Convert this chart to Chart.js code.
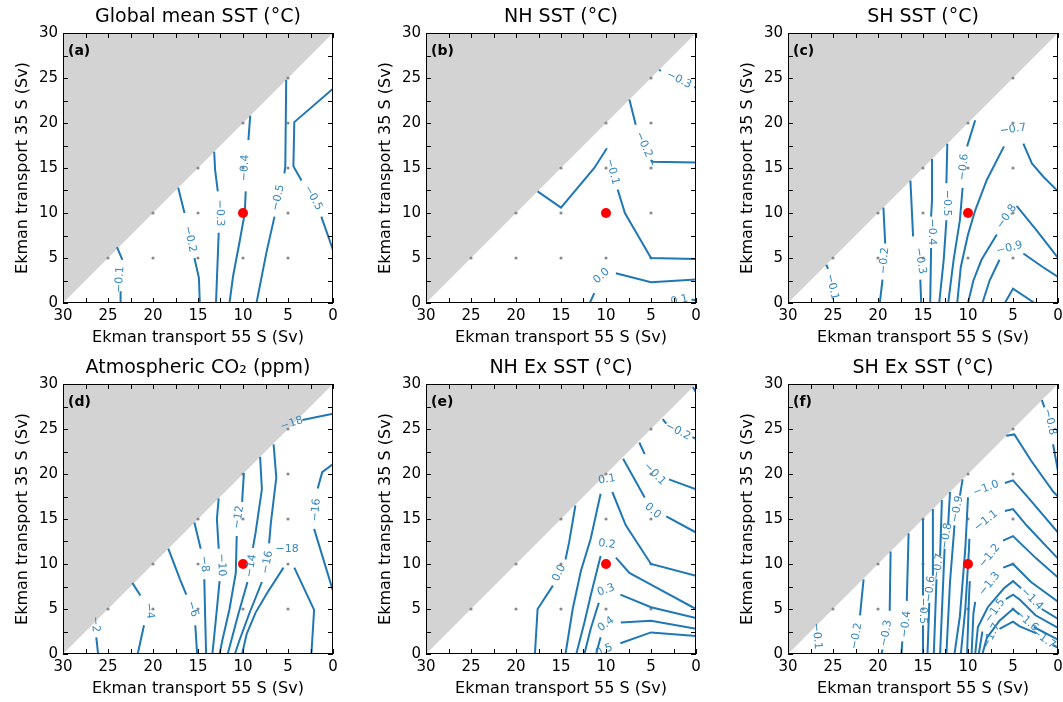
<!DOCTYPE html>
<html>
<head>
<meta charset="utf-8">
<script src="https://cdn.jsdelivr.net/npm/chart.js@4.4.0/dist/chart.umd.min.js"></script>
<style>
  body { margin: 0; background: #fff; width: 1063px; height: 702px; overflow: hidden; position: relative; }
  canvas { position: absolute; }
</style>
</head>
<body>
<canvas id="pa" width="338" height="348" style="left:0;top:0"></canvas>
<canvas id="pb" width="338" height="348" style="left:363px;top:0"></canvas>
<canvas id="pc" width="338" height="348" style="left:725px;top:0"></canvas>
<canvas id="pd" width="338" height="348" style="left:0;top:351px"></canvas>
<canvas id="pe" width="338" height="348" style="left:363px;top:351px"></canvas>
<canvas id="pf" width="338" height="348" style="left:725px;top:351px"></canvas>
<script>
// x = Ekman transport 55 S, y = Ekman transport 35 S (Sv)
// contour lines; points marked L are where the label sits (line is broken there)
const L = 'L';

const sampleRuns = [[25,5],[20,5],[15,5],[10,5],[5,5],[20,10],[15,10],[10,10],[5,10],
                    [15,15],[10,15],[5,15],[10,20],[5,20],[5,25]];
const controlRun = [10, 10];
const tickMarks = [0,2.5,5,7.5,10,12.5,15,17.5,20,22.5,25,27.5,30];

const sstGlobal = [
  [-0.1, [[24.0,6.2],[23.4,4.8],[23.7,2.6,L],[23.6,1.3],[23.6,0]]],
  [-0.2, [[17.2,12.8],[16.5,10.0],[15.9,7.1,L],[15.4,5.0],[14.9,2.8],[14.8,0]]],
  [-0.3, [[13.2,16.8],[13.1,14.8],[12.8,12.4],[12.6,10.0,L],[12.7,7.8],[13.0,0]]],
  [-0.4, [[9.2,20.8],[9.4,18.1],[9.8,15.0,L],[9.7,12.4],[9.8,10.0],[10.4,6.7],[11.1,3.0],[11.5,0]]],
  [-0.5, [[5.2,24.8],[5.3,15.2],[5.4,14.4],[6.1,11.7,L],[6.5,9.6],[7.4,5.6],[8.5,0]]],
  [-0.5, [[0,23.8],[4.3,20.1],[4.4,15.2],[3.5,13.6],[2.2,11.7,L],[1.3,9.6],[0,5.9]]]
];

const sstNH = [
  [-0.3, [[4.1,25.9],[3.9,25.8],[1.9,24.8,L],[0.2,24.0],[0,23.9]]],
  [-0.2, [[7.4,22.6],[6.7,19.8],[5.8,17.6,L],[5.0,15.9],[4.9,15.7],[0,15.6]]],
  [-0.1, [[17.6,12.4],[15.0,10.6],[11.3,15.0],[9.9,17.2],[9.3,14.6,L],[8.7,12.6],[7.9,10.0],[5.0,5.0],[0,4.9]]],
  [0.0,  [[11.8,0],[11.3,1.1],[10.5,3.0,L],[8.9,3.3],[5.0,2.3],[0,2.6]]],
  [0.1,  [[3.2,-0.2],[1.85,0.3,L],[0.5,0.4],[0,0.3]]]
];

const sstSH = [
  [-0.1, [[25.75,4.25],[25.55,3.8],[25.1,1.8,L]]],
  [-0.2, [[19.4,10.6],[19.2,6.6],[19.3,4.7,L],[19.5,2.6],[19.8,0]]],
  [-0.3, [[16.4,13.6],[16.1,7.4],[15.3,4.7,L],[15.3,2.6],[15.2,0]]],
  [-0.4, [[14.0,16.0],[14.0,11.4],[14.1,9.6],[14.0,7.9,L],[14.1,6.1],[14.2,0]]],
  [-0.5, [[12.3,17.7],[12.4,13.3],[12.4,11.1,L],[12.4,9.2],[12.7,4.8],[13.2,0]]],
  [-0.6, [[9.2,20.3],[10.1,17.4],[10.5,15.1,L],[10.6,12.8],[10.9,9.2],[11.6,4.8],[12.2,0]]],
  [-0.7, [[11.2,0],[10.8,4.0],[10.0,7.6],[9.2,10.3],[7.9,13.7],[6.0,17.4],[5.0,19.3,L],[3.85,17.7],[2.9,15.5],[1.6,14.0],[0,12.4]]],
  [-0.8, [[10.0,0],[9.4,2.5],[8.5,4.8],[6.8,7.6],[5.7,9.6,L],[4.6,10.8],[2.4,8.1],[0,5.0]]],
  [-0.9, [[8.4,0],[7.6,2.5],[6.5,4.8],[5.4,6.1,L],[3.85,5.5],[1.7,4.0],[0,2.9]]],
  [-1.0, [[5.9,0],[5.0,1.6],[2.6,0]]]
];

const co2 = [
  [-2,  [[26.4,3.3,L],[26.3,1.85],[26.1,0]]],
  [-4,  [[22.3,7.9],[21.4,6.5],[20.4,4.8,L],[21.0,3.2],[21.7,0]]],
  [-6,  [[18.3,11.7],[17.0,8.3],[16.3,6.6],[15.6,5.0,L],[15.3,3.2],[15.1,0]]],
  [-8,  [[15.4,14.6],[14.7,11.7],[14.3,10.0,L],[14.3,8.3],[14.2,4.0],[14.1,0]]],
  [-10, [[12.7,17.3],[12.9,15.0],[12.7,11.7],[12.4,9.9,L],[12.6,8.1],[13.0,4.0],[13.4,0]]],
  [-12, [[9.9,20.1],[10.1,16.9],[10.5,15.2,L],[10.7,13.1],[10.8,9.0],[11.5,5.0],[12.3,1.5],[12.6,0]]],
  [-14, [[8.1,21.9],[7.9,18.3],[8.6,13.5],[8.9,11.8],[9.1,9.8,L],[9.5,8.0],[10.5,4.5],[11.3,1.5],[11.7,0]]],
  [-16, [[6.6,23.3],[6.3,19.6],[6.9,14.6],[7.1,12.3],[7.3,10.2,L],[7.9,8.0],[9.3,4.5],[10.4,1.5],[10.9,0]]],
  [-18, [[10.1,0],[9.6,2.2],[8.6,4.6],[7.3,6.8],[5.5,9.6],[5.1,11.7,L],[4.3,9.6],[2.1,4.9],[2.4,0]]],
  [-18, [[4.6,25.6,L],[3.4,26.0],[0,26.7]]],
  [-16, [[0,21.1],[1.2,20.2],[1.7,18.4],[1.9,16.0,L],[2.1,13.9],[0,7.0]]]
];

const sstNHex = [
  [0.0,  [[13.4,16.5],[14.1,12.4],[14.5,10.5],[15.2,9.0,L],[15.9,7.6],[17.6,5.0],[17.9,0]]],
  [0.1,  [[14.5,0],[13.7,5.0],[12.8,9.2],[11.7,12.8],[10.6,17.8],[9.9,19.4,L],[9.3,18.0],[7.8,14.3],[5.0,10.0],[0,8.7]]],
  [0.0,  [[8.1,21.7],[5.7,17.4],[4.8,15.9,L],[3.3,15.3],[0,13.5]]],
  [-0.1, [[6.3,23.5],[5.7,22.2],[4.6,20.0,L],[3.0,19.4],[0,18.3]]],
  [-0.2, [[3.7,26.1],[3.3,25.6],[2.0,24.75,L],[0.4,24.1],[0,23.9]]],
  [-0.3, [[0.35,29.65],[0,29.1]]],
  [0.2,  [[13.3,0],[12.4,3.5],[11.7,6.5],[10.6,10.9],[9.9,12.2,L],[8.9,10.7],[7.4,9.0],[4.8,7.6],[0,5.0]]],
  [0.3,  [[12.4,0],[11.7,2.8],[10.8,5.7],[10.0,7.1,L],[8.4,6.6],[5.0,5.2],[0,4.0]]],
  [0.4,  [[11.1,0],[10.6,1.85],[10.0,3.3,L],[8.35,3.5],[5.0,3.7],[0,2.8]]],
  [0.5,  [[10.2,0.4,L],[8.4,1.2],[5.0,2.4],[0,2.0]]]
];

const sstSHex = [
  [-0.1, [[26.9,3.1],[26.8,2.0,L]]],
  [-0.2, [[21.6,8.3],[22.0,4.3],[22.4,2.0,L]]],
  [-0.3, [[18.6,11.4],[18.7,4.8],[19.1,2.3,L],[19.5,0.5],[19.6,0]]],
  [-0.4, [[16.6,13.4],[16.8,5.9],[16.9,3.3,L],[17.3,1.4],[17.4,0]]],
  [-0.5, [[15.0,15.0],[15.0,6.5],[15.0,4.8,L],[15.0,3.2],[15.0,0]]],
  [-0.6, [[13.9,16.1],[13.9,8.7],[14.2,7.2,L],[14.3,5.7],[14.5,0]]],
  [-0.7, [[12.9,17.1],[13.1,10.9],[13.3,9.7,L],[13.5,8.3],[13.8,0]]],
  [-0.8, [[12.0,18.0],[12.2,14.4],[12.4,13.1,L],[12.6,11.7],[13.1,0]]],
  [-0.9, [[10.6,19.4],[10.9,17.6],[11.2,16.1,L],[11.5,14.3],[12.0,8.0],[12.4,0]]],
  [-1.0, [[11.5,0],[10.9,4.2],[10.3,11.7],[10.0,17.4],[8.0,18.4,L],[5.9,19.0],[5.0,19.3],[3.5,17.6],[0,13.5]]],
  [-1.1, [[10.8,0],[10.3,5.0],[9.9,11.5],[9.85,12.8],[8.0,14.8,L],[5.9,15.9],[5.0,16.1],[3.5,14.3],[0,10.6]]],
  [-1.2, [[10.1,0],[9.9,6.0],[9.8,8.1],[7.6,10.9,L],[6.1,12.6],[5.0,13.1],[2.4,10.6],[0,8.5]]],
  [-1.3, [[9.6,0],[9.4,4.5],[9.2,5.8],[7.6,7.8,L],[6.1,9.6],[5.0,10.0],[3.0,8.0],[0,5.8]]],
  [-1.4, [[9.2,0],[8.9,3.0],[7.8,5.2],[6.0,7.3],[5.0,8.1],[4.1,7.3],[2.9,6.1,L],[1.8,5.0],[0,3.9]]],
  [-1.5, [[8.8,0],[8.4,2.5],[7.0,4.8,L],[5.8,6.1],[5.0,6.6],[4.2,6.0],[2.5,4.3],[0,2.9]]],
  [-1.6, [[8.4,0],[7.9,1.8],[6.5,3.7],[5.0,5.0],[4.3,4.4],[3.5,3.7,L],[2.7,3.0],[0,1.6]]],
  [-1.7, [[7.9,0],[7.4,2.0,L],[6.5,2.8],[5.0,3.6],[4.3,3.1],[2.4,2.3],[1.6,1.7,L],[0.6,1.0],[0,0.7]]],
  [-0.8, [[1.8,28.2],[1.5,27.4],[0.9,25.8,L],[0.55,23.3],[0,20.3]]],
  [-0.9, [[5.75,24.25],[4.85,24.4],[3.0,21.5],[0.5,18.0],[0,17.5]]]
];

const panels = [
  { id: 'pa', tag: '(a)', title: 'Global mean SST (°C)', levels: sstGlobal, digits: 1 },
  { id: 'pb', tag: '(b)', title: 'NH SST (°C)', levels: sstNH, digits: 1 },
  { id: 'pc', tag: '(c)', title: 'SH SST (°C)', levels: sstSH, digits: 1 },
  { id: 'pd', tag: '(d)', title: 'Atmospheric CO₂ (ppm)', levels: co2, digits: 0 },
  { id: 'pe', tag: '(e)', title: 'NH Ex SST (°C)', levels: sstNHex, digits: 1 },
  { id: 'pf', tag: '(f)', title: 'SH Ex SST (°C)', levels: sstSHex, digits: 1 }
];

const LINE = '#1f77b4';
const FONT = 'DejaVu Sans';
Chart.defaults.font.family = FONT;

function fmtLevel(v, digits) {
  return v.toFixed(digits).replace('-', '\u2212');
}

function decorPlugin(p, labels) {
  return {
    id: 'decor',
    afterDatasetsDraw(chart) {
      const { ctx, chartArea: a, scales: { x, y } } = chart;
      const pix = q => [x.getPixelForValue(q[0]), y.getPixelForValue(q[1])];
      ctx.save();
      ctx.beginPath();
      ctx.rect(a.left, a.top, a.right - a.left, a.bottom - a.top);
      ctx.clip();
      ctx.font = '11px "' + FONT + '"';
      ctx.fillStyle = '#3587c0';
      ctx.textAlign = 'center';
      ctx.textBaseline = 'middle';
      labels.forEach(l => {
        const c = pix(l.at);
        const s = l.prev ? pix(l.prev) : c;
        const e = l.next ? pix(l.next) : c;
        let ang = Math.atan2(e[1] - s[1], e[0] - s[0]);
        if (ang > Math.PI / 2) ang -= Math.PI;
        if (ang < -Math.PI / 2) ang += Math.PI;
        ctx.save();
        ctx.translate(c[0], c[1]);
        ctx.rotate(ang);
        ctx.fillText(l.text, 0, 0);
        ctx.restore();
      });
      ctx.restore();
    },
    afterDraw(chart) {
      const { ctx, chartArea: a, scales: { x, y } } = chart;
      ctx.save();
      ctx.strokeStyle = '#000';
      ctx.lineWidth = 1;
      ctx.beginPath();
      tickMarks.forEach(v => {
        const px = Math.round(x.getPixelForValue(v)) + 0.5;
        ctx.moveTo(px, a.bottom); ctx.lineTo(px, a.bottom - 5);
        ctx.moveTo(px, a.top); ctx.lineTo(px, a.top + 5);
        const py = Math.round(y.getPixelForValue(v)) + 0.5;
        ctx.moveTo(a.left, py); ctx.lineTo(a.left + 5, py);
        ctx.moveTo(a.right, py); ctx.lineTo(a.right - 5, py);
      });
      ctx.stroke();
      ctx.strokeRect(Math.round(a.left) + 0.5, Math.round(a.top) + 0.5,
                     Math.round(a.right - a.left) - 1, Math.round(a.bottom - a.top) - 1);
      ctx.fillStyle = '#000';
      ctx.textBaseline = 'middle';
      ctx.textAlign = 'left';
      ctx.font = 'bold 14px "' + FONT + '"';
      ctx.fillText(p.tag, a.left + 5, a.top + 18);
      ctx.textAlign = 'center';
      ctx.font = '19px "' + FONT + '"';
      ctx.fillText(p.title, (a.left + a.right) / 2, a.top - 16);
      ctx.restore();
    }
  };
}

panels.forEach(p => {
  const datasets = [];
  const labels = [];
  datasets.push({
    type: 'line', order: 5,
    data: [{ x: 30, y: 0 }, { x: 0, y: 30 }],
    fill: 'end', backgroundColor: '#d3d3d3', borderColor: 'rgba(0,0,0,0)', borderWidth: 0, pointRadius: 0
  });
  datasets.push({
    type: 'scatter', order: 4,
    data: sampleRuns.map(r => ({ x: r[0], y: r[1] })),
    pointRadius: 1.6, backgroundColor: '#8a8a8a', borderWidth: 0
  });
  p.levels.forEach(([lev, pts]) => {
    const text = fmtLevel(lev, p.digits);
    pts.forEach((q, i) => {
      if (q[2] !== L) return;
      const prev = i > 0 && pts[i - 1][2] !== L ? pts[i - 1] : null;
      const next = i < pts.length - 1 && pts[i + 1][2] !== L ? pts[i + 1] : null;
      labels.push({ at: q, prev, next, text });
    });
    datasets.push({
      type: 'line', order: 2,
      data: pts.map(q => ({ x: q[0], y: q[2] === L ? null : q[1] })),
      borderColor: LINE, borderWidth: 2, pointRadius: 0, fill: false, spanGaps: false, tension: 0
    });
  });
  datasets.push({
    type: 'scatter', order: 1,
    data: [{ x: controlRun[0], y: controlRun[1] }],
    pointRadius: 5, backgroundColor: '#ff0000', borderWidth: 0
  });

  const tickFont = { family: FONT, size: 15 };
  const titleFont = { family: FONT, size: 16 };
  new Chart(document.getElementById(p.id), {
    type: 'scatter',
    data: { datasets },
    options: {
      responsive: false,
      animation: false,
      events: [],
      layout: { padding: { left: 0, right: 5, top: 33, bottom: 0 } },
      plugins: { legend: { display: false }, tooltip: { enabled: false }, title: { display: false } },
      scales: {
        x: {
          type: 'linear', reverse: true, min: 0, max: 30,
          ticks: { stepSize: 5, color: '#000', font: tickFont, padding: 4, maxRotation: 0 },
          grid: { display: false, drawTicks: false },
          border: { display: false },
          title: { display: true, text: 'Ekman transport 55 S (Sv)', color: '#000', font: titleFont, padding: { top: 0, bottom: 0.4 } },
          afterFit(s) { s.height = 45; s.paddingLeft = 0; s.paddingRight = 0; }
        },
        y: {
          type: 'linear', min: 0, max: 30,
          ticks: { stepSize: 5, color: '#000', font: tickFont, padding: 5 },
          grid: { display: false, drawTicks: false },
          border: { display: false },
          title: { display: true, text: 'Ekman transport 35 S (Sv)', color: '#000', font: titleFont, padding: { top: 13.4, bottom: 0 } },
          afterFit(s) { s.width = 63; s.paddingTop = 0; s.paddingBottom = 0; }
        }
      }
    },
    plugins: [decorPlugin(p, labels)]
  });
});
</script>
</body>
</html>
